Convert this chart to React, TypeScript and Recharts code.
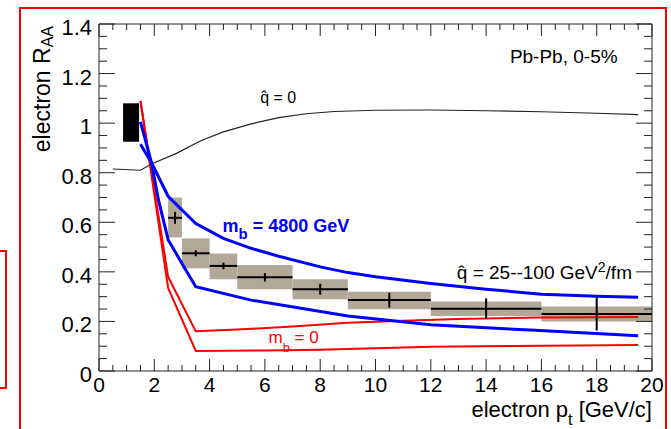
import React from 'react';
import {
  ComposedChart,
  Line,
  Scatter,
  ErrorBar,
  XAxis,
  YAxis,
  ReferenceArea,
  ReferenceDot,
} from 'recharts';

const FONT = '"Liberation Sans", Arial, Helvetica, sans-serif';
const AX = '#222';

// ---- axis ticks ----
const xMajorTicks = [0, 2, 4, 6, 8, 10, 12, 14, 16, 18, 20];
const xTickLabels = ['0', '2', '4', '6', '8', '10', '12', '14', '16', '18', '20'];
const yMajorTicks = [0, 0.2, 0.4, 0.6, 0.8, 1, 1.2, 1.4];
const yTickLabels = ['0', '0.2', '0.4', '0.6', '0.8', '1', '1.2', '1.4'];
const xAllTicks = Array.from({ length: 41 }, (_, i) => i * 0.5);
const yAllTicks = Array.from({ length: 29 }, (_, i) => Math.round(i * 5) / 100);

// ---- model curves ----
const qhatZero = [
  { x: 0.5, y: 0.815 }, { x: 1.5, y: 0.81 }, { x: 1.9, y: 0.835 }, { x: 2.8, y: 0.878 },
  { x: 3.7, y: 0.93 }, { x: 4.5, y: 0.965 }, { x: 5.5, y: 0.997 }, { x: 6.5, y: 1.022 },
  { x: 7.5, y: 1.038 }, { x: 8.5, y: 1.047 }, { x: 10, y: 1.052 }, { x: 12, y: 1.053 },
  { x: 14, y: 1.05 }, { x: 16, y: 1.046 }, { x: 18, y: 1.04 }, { x: 19.5, y: 1.034 },
];
const blueUpper = [
  { x: 1.5, y: 0.915 }, { x: 1.9, y: 0.84 }, { x: 2.5, y: 0.705 }, { x: 3.5, y: 0.595 },
  { x: 4.5, y: 0.535 }, { x: 5.5, y: 0.495 }, { x: 6.5, y: 0.463 }, { x: 8, y: 0.42 },
  { x: 9, y: 0.397 }, { x: 10, y: 0.38 }, { x: 12, y: 0.353 }, { x: 14, y: 0.33 },
  { x: 16, y: 0.31 }, { x: 18, y: 0.302 }, { x: 19.5, y: 0.298 },
];
const blueLower = [
  { x: 1.5, y: 1.005 }, { x: 1.9, y: 0.84 }, { x: 2.15, y: 0.69 }, { x: 2.5, y: 0.53 },
  { x: 3.0, y: 0.434 }, { x: 3.5, y: 0.34 }, { x: 5.5, y: 0.286 }, { x: 7.3, y: 0.253 },
  { x: 9, y: 0.222 }, { x: 12, y: 0.187 }, { x: 15.6, y: 0.165 }, { x: 19.5, y: 0.142 },
];
const redUpper = [
  { x: 1.5, y: 1.09 }, { x: 2.5, y: 0.38 }, { x: 3.5, y: 0.16 }, { x: 5, y: 0.167 },
  { x: 7, y: 0.18 }, { x: 9, y: 0.195 }, { x: 11, y: 0.203 }, { x: 13, y: 0.21 },
  { x: 16, y: 0.216 }, { x: 19.5, y: 0.218 },
];
const redLower = [
  { x: 1.5, y: 1.09 }, { x: 2.5, y: 0.335 }, { x: 3.5, y: 0.081 }, { x: 6, y: 0.083 },
  { x: 8, y: 0.086 }, { x: 10, y: 0.092 }, { x: 12, y: 0.098 }, { x: 15, y: 0.101 },
  { x: 19.5, y: 0.105 },
];

// ---- measured points ----
const ptX = [2.75, 3.5, 4.5, 6, 8, 10.5, 14, 18];
const binLow = [2.5, 3, 4, 5, 7, 9, 12, 16];
const binHigh = [3, 4, 5, 7, 9, 12, 16, 20];
const ptY = [0.618, 0.475, 0.424, 0.378, 0.33, 0.286, 0.251, 0.23];
const statErr = [0.024, 0.012, 0.013, 0.017, 0.022, 0.03, 0.042, 0.067];
const sysLow = [0.539, 0.414, 0.37, 0.33, 0.289, 0.249, 0.222, 0.2];
const sysHigh = [0.7, 0.535, 0.474, 0.428, 0.37, 0.32, 0.28, 0.26];
const normX = [0.87, 1.45];
const normY = [0.925, 1.08];

const points = ptX.map((x, i) => ({
  x,
  y: ptY[i],
  ex: [x - binLow[i], binHigh[i] - x],
  ey: statErr[i],
}));

const near = (a: number, b: number) => Math.abs(a - b) < 1e-6;

const BottomTick = (props: any) => {
  const { x, y, payload } = props;
  const idx = xMajorTicks.findIndex((t) => near(t, payload.value));
  const major = idx >= 0;
  return (
    <g>
      <line x1={x} x2={x} y1={y} y2={y - (major ? 12 : 6)} stroke={AX} strokeWidth={1} />
      {major && (
        <text x={x} y={y + 21} textAnchor="middle" fontSize={21} fontFamily={FONT} fill="#000">
          {xTickLabels[idx]}
        </text>
      )}
    </g>
  );
};
const TopTick = (props: any) => {
  const { x, y, payload } = props;
  const major = xMajorTicks.some((t) => near(t, payload.value));
  return <line x1={x} x2={x} y1={y} y2={y + (major ? 12 : 6)} stroke={AX} strokeWidth={1} />;
};
const LeftTick = (props: any) => {
  const { x, y, payload } = props;
  const idx = yMajorTicks.findIndex((t) => near(t, payload.value));
  const major = idx >= 0;
  return (
    <g>
      <line x1={x} x2={x + (major ? 16 : 8)} y1={y} y2={y} stroke={AX} strokeWidth={1} />
      {major && (
        <text x={x - 7} y={y + 11} textAnchor="end" fontSize={22} fontFamily={FONT} fill="#000">
          {yTickLabels[idx]}
        </text>
      )}
    </g>
  );
};
const RightTick = (props: any) => {
  const { x, y, payload } = props;
  const major = yMajorTicks.some((t) => near(t, payload.value));
  return <line x1={x} x2={x - (major ? 16 : 8)} y1={y} y2={y} stroke={AX} strokeWidth={1} />;
};

const yTitle = (p: any) => {
  const vb = p.viewBox;
  const tx = vb.x + vb.width - 49;
  const ty = vb.y + 2;
  return (
    <text
      x={tx}
      y={ty}
      transform={`rotate(-90, ${tx}, ${ty})`}
      textAnchor="end"
      fontSize={23}
      fontFamily={FONT}
      fill="#000"
    >
      electron R
      <tspan fontSize={16} dy={3}>AA</tspan>
    </text>
  );
};
const xTitle = (p: any) => {
  const vb = p.viewBox;
  return (
    <text x={vb.x + vb.width} y={vb.y + 45.5} textAnchor="end" fontSize={22} fontFamily={FONT} fill="#000">
      electron p
      <tspan fontSize={16} dy={8}>t</tspan>
      <tspan dy={-8}> [GeV/c]</tspan>
    </text>
  );
};

const annQ0 = (p: any) => (
  <text x={p.viewBox.x} y={p.viewBox.y} fontSize={16} fontFamily={FONT} fill="#000">
    {'q\u0302 = 0'}
  </text>
);
const annQ = (p: any) => (
  <text x={p.viewBox.x} y={p.viewBox.y} fontSize={19} fontFamily={FONT} fill="#000">
    {'q\u0302 = 25--100 GeV'}
    <tspan fontSize={14} dy={-7.5}>2</tspan>
    <tspan dy={7.5}>/fm</tspan>
  </text>
);
const annMb = (p: any) => (
  <text x={p.viewBox.x} y={p.viewBox.y} fontSize={18} fontWeight="bold" fontFamily={FONT} fill="#0000ff">
    m
    <tspan fontSize={15} dy={7}>b</tspan>
    <tspan dy={-7}> = 4800 GeV</tspan>
  </text>
);
const annMb0 = (p: any) => (
  <text x={p.viewBox.x} y={p.viewBox.y} fontSize={17} fontFamily={FONT} fill="#ff0000">
    m
    <tspan fontSize={13} dy={9}>b</tspan>
    <tspan dy={-9}> = 0</tspan>
  </text>
);
const annPb = (p: any) => (
  <text x={p.viewBox.x} y={p.viewBox.y} fontSize={19} fontFamily={FONT} fill="#000">
    Pb-Pb, 0-5%
  </text>
);

const NoShape = () => <g />;

export default function App() {
  return (
    <div style={{ position: 'absolute', left: 0, top: 0, width: 671, height: 429, overflow: 'hidden', background: '#fff' }}>
      <div style={{ position: 'absolute', left: 19, top: 7, width: 644, height: 440, border: '2px solid #ff0000' }} />
      <div style={{ position: 'absolute', left: -10, top: 250, width: 13, height: 135, border: '2px solid #ff0000' }} />
      <div style={{ position: 'absolute', left: 0, top: 0 }}>
        <ComposedChart width={671} height={429} margin={{ top: 23, right: 18, bottom: 0, left: 98 }}>
          <XAxis
            xAxisId={0}
            dataKey="x"
            type="number"
            domain={[0, 20]}
            allowDataOverflow
            ticks={xAllTicks}
            interval={0}
            height={58}
            tickSize={0}
            tickMargin={0}
            tickLine={false}
            tick={<BottomTick />}
            axisLine={{ stroke: AX, strokeWidth: 1 }}
            label={xTitle}
          />
          <XAxis
            xAxisId="top"
            orientation="top"
            dataKey="x"
            type="number"
            domain={[0, 20]}
            allowDataOverflow
            ticks={xAllTicks}
            interval={0}
            height={1}
            tickSize={0}
            tickMargin={0}
            tickLine={false}
            tick={<TopTick />}
            axisLine={{ stroke: AX, strokeWidth: 1 }}
          />
          <YAxis
            yAxisId={0}
            dataKey="y"
            type="number"
            domain={[0, 1.4]}
            allowDataOverflow
            ticks={yAllTicks}
            interval={0}
            width={1}
            tickSize={0}
            tickMargin={0}
            tickLine={false}
            tick={<LeftTick />}
            axisLine={{ stroke: AX, strokeWidth: 1 }}
            label={yTitle}
          />
          <YAxis
            yAxisId="right"
            orientation="right"
            dataKey="y"
            type="number"
            domain={[0, 1.4]}
            allowDataOverflow
            ticks={yAllTicks}
            interval={0}
            width={1}
            tickSize={0}
            tickMargin={0}
            tickLine={false}
            tick={<RightTick />}
            axisLine={{ stroke: AX, strokeWidth: 1 }}
          />

          {ptX.map((x, i) => (
            <ReferenceArea
              key={'sys' + i}
              x1={binLow[i]}
              x2={binHigh[i]}
              y1={sysLow[i]}
              y2={sysHigh[i]}
              fill="#b3a898"
              fillOpacity={1}
              stroke="none"
            />
          ))}
          <ReferenceArea x1={normX[0]} x2={normX[1]} y1={normY[0]} y2={normY[1]} fill="#000" fillOpacity={1} stroke="none" />

          <Line data={qhatZero} dataKey="y" type="linear" stroke="#222" strokeWidth={1.2} dot={false} isAnimationActive={false} />
          <Line data={redUpper} dataKey="y" type="linear" stroke="#ff0000" strokeWidth={2} dot={false} isAnimationActive={false} />
          <Line data={redLower} dataKey="y" type="linear" stroke="#ff0000" strokeWidth={2} dot={false} isAnimationActive={false} />
          <Line data={blueUpper} dataKey="y" type="linear" stroke="#0000ff" strokeWidth={3} dot={false} isAnimationActive={false} />
          <Line data={blueLower} dataKey="y" type="linear" stroke="#0000ff" strokeWidth={3} dot={false} isAnimationActive={false} />

          <Scatter data={points} dataKey="y" shape={NoShape} isAnimationActive={false}>
            <ErrorBar dataKey="ex" direction="x" width={0} stroke="#000" strokeWidth={2} isAnimationActive={false} />
            <ErrorBar dataKey="ey" direction="y" width={0} stroke="#000" strokeWidth={2} isAnimationActive={false} />
          </Scatter>

          <ReferenceDot x={5.83} y={1.08} r={0} fill="none" stroke="none" label={annQ0} />
          <ReferenceDot x={4.47} y={0.562} r={0} fill="none" stroke="none" label={annMb} />
          <ReferenceDot x={12.94} y={0.37} r={0} fill="none" stroke="none" label={annQ} />
          <ReferenceDot x={6.13} y={0.112} r={0} fill="none" stroke="none" label={annMb0} />
          <ReferenceDot x={14.86} y={1.241} r={0} fill="none" stroke="none" label={annPb} />
        </ComposedChart>
      </div>
    </div>
  );
}
